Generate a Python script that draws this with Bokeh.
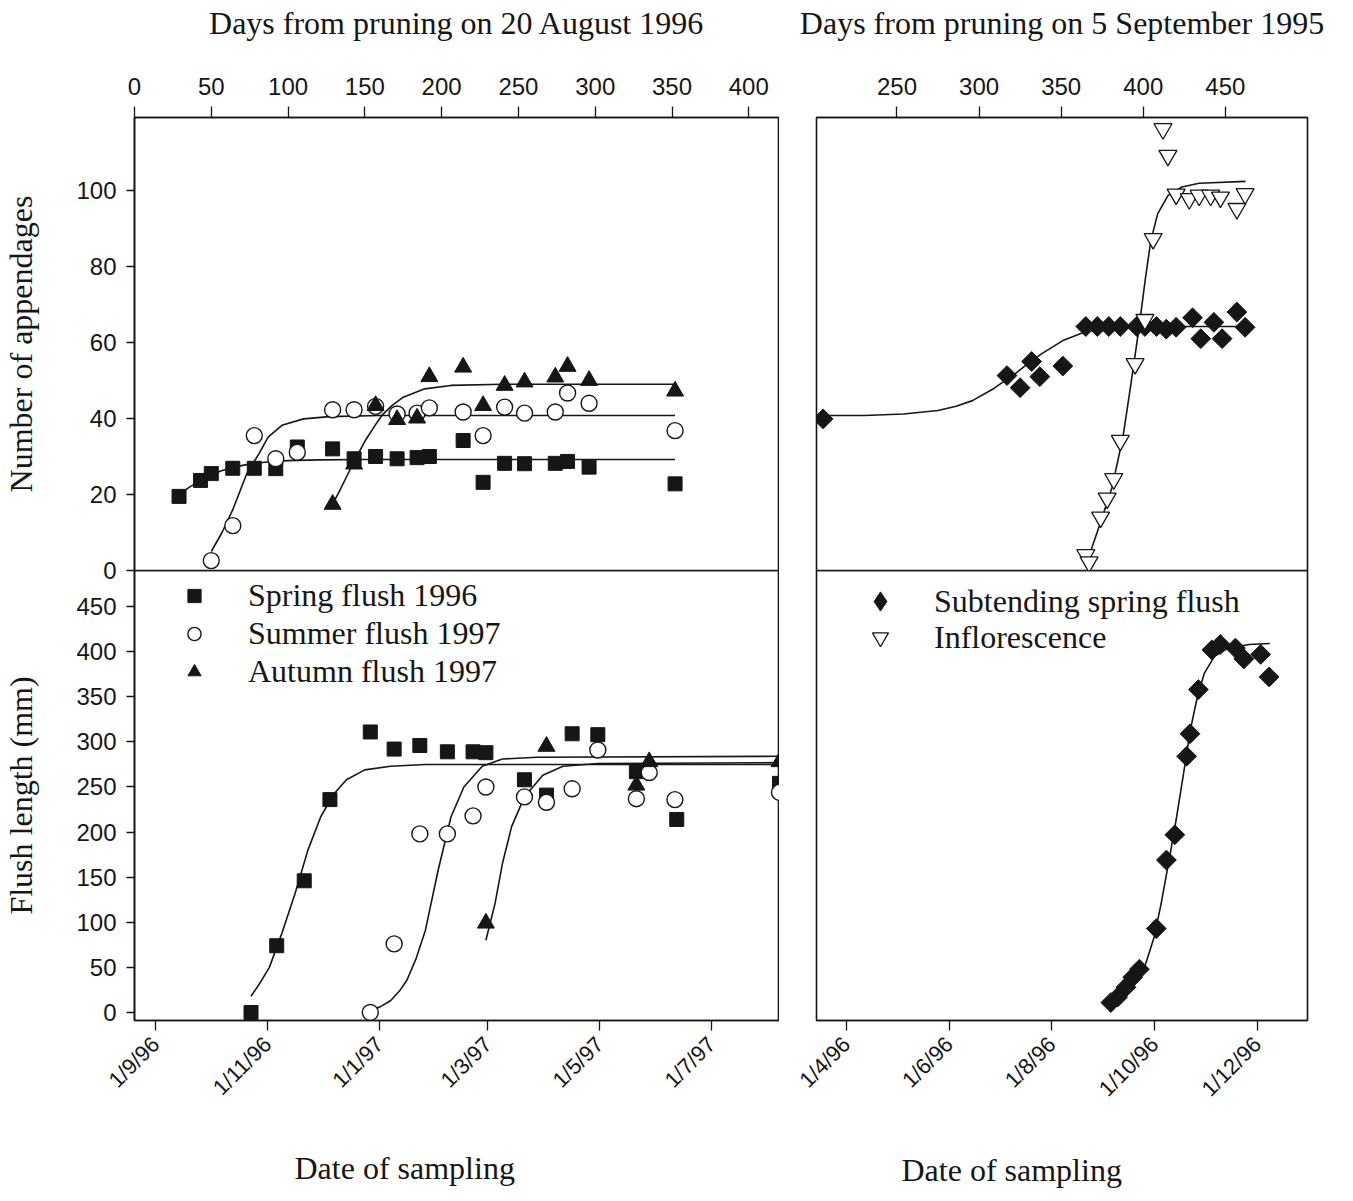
import math
import pandas as pd
from bokeh.plotting import figure
from bokeh.layouts import row, column
from bokeh.models import FixedTicker, Legend, LegendItem, Range1d, Title
from bokeh.embed import file_html
from bokeh.resources import INLINE

# ---------------- data: number of appendages (days from pruning 20 Aug 1996) ----------------
spring_app_days = [29, 43, 50, 64, 78, 92, 106, 129, 143, 157, 171, 184, 192, 214, 227, 241, 254, 274, 282, 296, 352]
spring_app_vals = [19.5, 23.7, 25.5, 26.9, 26.9, 26.8, 32.5, 32.0, 29.4, 30.0, 29.4, 29.7, 30.0, 34.2, 23.2, 28.2, 28.1, 28.2, 28.7, 27.2, 22.8]
summer_app_days = [50, 64, 78, 92, 106, 129, 143, 157, 171, 184, 192, 214, 227, 241, 254, 274, 282, 296, 352]
summer_app_vals = [2.6, 11.8, 35.5, 29.4, 31.1, 42.3, 42.3, 43.2, 41.2, 41.4, 42.8, 41.7, 35.5, 43.0, 41.4, 41.7, 46.7, 44.0, 36.8]
autumn_app_days = [129, 143, 157, 171, 184, 192, 214, 227, 241, 254, 274, 282, 296, 352]
autumn_app_vals = [17.4, 28.0, 43.4, 39.7, 40.1, 51.0, 53.5, 43.4, 48.7, 49.6, 50.9, 53.7, 50.0, 47.2]

# fitted curves
spring_app_fit_x = [29, 36, 44, 50, 57, 64, 72, 80, 90, 100, 120, 150, 352]
spring_app_fit_y = [20.0, 22.0, 23.8, 25.2, 26.3, 27.1, 27.8, 28.3, 28.7, 28.9, 29.1, 29.2, 29.2]
summer_app_fit_x = [50, 57, 64, 73, 81, 87, 96, 110, 127, 160, 352]
summer_app_fit_y = [5.0, 10.0, 16.0, 25.4, 30.7, 35.1, 38.2, 39.9, 40.5, 40.8, 40.8]
autumn_app_fit_x = [129, 133, 138, 144, 150, 156, 161, 168, 175, 189, 206, 240, 352]
autumn_app_fit_y = [17.5, 20.5, 24.6, 29.5, 34.0, 37.8, 40.8, 43.5, 45.6, 47.8, 48.7, 49.0, 49.0]

# ---------------- data: number of appendages (days from pruning 5 Sep 1995) ----------------
subt_app_days = [205, 317, 325, 332, 337, 351, 365, 372, 379, 386, 396, 401, 408, 414, 420, 430, 435, 443, 448, 457, 462]
subt_app_vals = [39.9, 51.3, 48.1, 55.0, 51.0, 53.8, 64.2, 64.2, 64.2, 64.2, 64.2, 64.2, 64.2, 63.5, 64.0, 66.5, 61.0, 65.3, 61.0, 68.0, 64.0]
infl_app_days = [365, 367, 374, 378, 382, 386, 395, 401, 406, 412, 415, 420, 428, 434, 441, 447, 457, 462]
infl_app_vals = [4.1, 2.2, 14.0, 19.0, 24.1, 34.2, 54.4, 66.0, 87.3, 116.2, 109.2, 99.0, 97.8, 98.7, 98.7, 98.2, 95.2, 99.1]
subt_app_fit_x = [205, 230, 254, 275, 286, 296, 309, 322, 330, 338, 351, 364, 376, 390, 462]
subt_app_fit_y = [40.8, 40.8, 41.2, 42.1, 43.2, 44.7, 47.9, 51.8, 54.5, 57.0, 60.5, 62.7, 63.8, 64.2, 64.2]
infl_app_fit_x = [366.7, 374, 381, 387.6, 391.9, 397.2, 401.4, 404.6, 408.8, 415.1, 423.5, 434, 462.3]
infl_app_fit_y = [3.5, 12.7, 21.9, 35.1, 47.4, 63.2, 77.2, 86.8, 93.9, 98.7, 100.9, 101.9, 102.4]

# ---------------- data: flush length (mm), 1996/97 ----------------
spring_len_dates = ["1996-10-23", "1996-11-06", "1996-11-21", "1996-12-05", "1996-12-27", "1997-01-09",
                    "1997-01-23", "1997-02-07", "1997-02-21", "1997-02-28", "1997-03-21", "1997-04-02",
                    "1997-04-16", "1997-04-30", "1997-05-21", "1997-06-12", "1997-08-07"]
spring_len_vals = [0, 74, 146, 236, 311, 292, 296, 289, 289, 288, 258, 241, 309, 308, 267, 214, 254]
summer_len_dates = ["1996-12-27", "1997-01-09", "1997-01-23", "1997-02-07", "1997-02-21", "1997-02-28",
                    "1997-03-21", "1997-04-02", "1997-04-16", "1997-04-30", "1997-05-21", "1997-05-28",
                    "1997-06-11", "1997-08-07"]
summer_len_vals = [0, 76, 198, 198, 218, 250, 239, 233, 248, 291, 237, 266, 236, 244]
autumn_len_dates = ["1997-02-28", "1997-04-02", "1997-05-21", "1997-05-28", "1997-08-07"]
autumn_len_vals = [99, 295, 252, 278, 278]
# fitted curves, x in days after 20 Aug 1996
spring_len_fit_x = [64, 69, 74, 81, 88, 95, 102, 109, 116, 126, 140, 159, 352]
spring_len_fit_y = [18, 33, 50, 89, 132, 180, 217, 242, 258, 269, 273, 275, 275]
summer_len_fit_x = [129, 135, 140, 145, 149, 154, 159, 166, 173, 180, 190, 201, 220, 352]
summer_len_fit_y = [2, 7, 13, 24, 36, 60, 91, 158, 217, 250, 273, 281, 283, 284]
autumn_len_fit_x = [192, 197, 201, 206, 213, 223, 234, 253, 352]
autumn_len_fit_y = [80, 121, 165, 206, 239, 263, 273, 276, 277]

# ---------------- data: flush length (mm), 1996 subtending flush ----------------
subt_len_dates = ["1996-09-05", "1996-09-09", "1996-09-14", "1996-09-18", "1996-09-22", "1996-10-02",
                  "1996-10-08", "1996-10-13", "1996-10-20", "1996-10-22", "1996-10-27", "1996-11-04",
                  "1996-11-09", "1996-11-18", "1996-11-23", "1996-12-03", "1996-12-08"]
subt_len_vals = [11, 17, 28, 39, 48, 93, 169, 197, 284, 309, 358, 402, 408, 404, 392, 397, 372]
# fitted curve, x in days after 1 Jan 1996
subt_len_fit_x = [249, 255, 260.5, 265, 268.7, 273.8, 277.9, 283, 287.1, 291.2, 295.2, 299.4, 303.5, 309.6, 317.8, 330.1, 342.4]
subt_len_fit_y = [11.4, 19, 28, 40, 54, 84, 121, 173, 217, 265, 313, 350, 376, 395, 404, 408, 409]

# ---------------- tick labels ----------------
left_days_ticks = [0, 50, 100, 150, 200, 250, 300, 350, 400]
right_days_ticks = [250, 300, 350, 400, 450]
app_ticks = [0, 20, 40, 60, 80, 100]
len_ticks = [0, 50, 100, 150, 200, 250, 300, 350, 400, 450]
left_date_ticks = ["1996-09-01", "1996-11-01", "1997-01-01", "1997-03-01", "1997-05-01", "1997-07-01"]
left_date_labels = ["1/9/96", "1/11/96", "1/1/97", "1/3/97", "1/5/97", "1/7/97"]
right_date_ticks = ["1996-04-01", "1996-06-01", "1996-08-01", "1996-10-01", "1996-12-01"]
right_date_labels = ["1/4/96", "1/6/96", "1/8/96", "1/10/96", "1/12/96"]

REF_L = pd.Timestamp("1996-08-20")
REF_R = pd.Timestamp("1996-01-01")


def to_days(dates, ref):
    return [int((pd.Timestamp(d) - ref).days) for d in dates]


SERIF = "Liberation Serif"
SANS = "Liberation Sans"
INK = "#161616"
LBL = "32px"
NAN = float("nan")


def style(p):
    p.grid.visible = False
    p.outline_line_color = INK
    p.outline_line_width = 1.6
    p.background_fill_color = "white"
    p.border_fill_color = "white"
    for ax in p.axis:
        ax.axis_line_color = INK
        ax.axis_line_width = 1.6
        ax.major_tick_line_color = INK
        ax.major_tick_line_width = 1.3
        ax.major_tick_out = 9
        ax.major_tick_in = 0
        ax.minor_tick_line_color = None
        ax.major_label_text_font = SANS
        ax.major_label_text_font_size = "24px"
        ax.major_label_text_color = INK
        ax.axis_label_text_font = SERIF
        ax.axis_label_text_font_size = LBL
        ax.axis_label_text_font_style = "normal"
        ax.axis_label_text_color = INK


def fig(**kw):
    return figure(toolbar_location=None, output_backend="svg", **kw)


def top_axis_title(p, text):
    ax = p.xaxis[0]
    ax.axis_label = text
    ax.major_tick_out = 11
    ax.major_label_standoff = 12
    ax.axis_label_standoff = 34


def add_title(p, text, side, offset, standoff):
    p.add_layout(Title(text=text, align="left", offset=offset, standoff=standoff,
                       text_font=SERIF, text_font_size=LBL, text_font_style="normal",
                       text_color=INK), side)


APP_RANGE = (0, 119.2)
LEN_RANGE = (-8.9, 490)
OVER = 14  # bottom strip of the upper figures, overlapped by the lower figures

# ---------------- top-left ----------------
tl = fig(frame_width=645, frame_height=453, x_range=Range1d(0, 420), y_range=Range1d(*APP_RANGE),
         x_axis_location="above", min_border_left=133, min_border_top=117,
         min_border_bottom=OVER, min_border_right=0)
style(tl)
tl.xaxis.ticker = FixedTicker(ticks=left_days_ticks)
tl.yaxis.ticker = FixedTicker(ticks=app_ticks)
tl.yaxis.axis_label = "Number of appendages"
top_axis_title(tl, "Days from pruning on 20 August 1996")
tl.yaxis.major_tick_out = 8
tl.yaxis.major_label_standoff = 10
tl.yaxis.axis_label_standoff = 34
tl.line(spring_app_fit_x, spring_app_fit_y, line_color=INK, line_width=1.6)
tl.line(summer_app_fit_x, summer_app_fit_y, line_color=INK, line_width=1.6)
tl.line(autumn_app_fit_x, autumn_app_fit_y, line_color=INK, line_width=1.6)
tl.scatter(spring_app_days, spring_app_vals, marker="square", size=14, fill_color=INK, line_color=INK)
tl.scatter(summer_app_days, summer_app_vals, marker="circle", size=16, fill_color="white",
           line_color=INK, line_width=1.4)
tl.scatter(autumn_app_days, autumn_app_vals, marker="triangle", size=17, fill_color=INK, line_color=INK)

# ---------------- bottom-left ----------------
bl = fig(frame_width=645, frame_height=450, x_range=Range1d(0.5, 352), y_range=Range1d(*LEN_RANGE),
         min_border_left=133, min_border_top=0, min_border_bottom=180, min_border_right=0,
         margin=(-OVER, 0, 0, 0))
style(bl)
bl.background_fill_alpha = 0
bl.border_fill_alpha = 0
lt = to_days(left_date_ticks, REF_L)
bl.xaxis.ticker = FixedTicker(ticks=lt)
bl.xaxis.major_label_overrides = {t: lab for t, lab in zip(lt, left_date_labels)}
bl.xaxis.major_label_orientation = math.pi / 4
bl.xaxis.major_label_text_font_size = "22px"
bl.xaxis.major_tick_out = 10
bl.xaxis.major_label_standoff = 10
add_title(bl, "Date of sampling", "below", 160, 72)
bl.yaxis.ticker = FixedTicker(ticks=len_ticks)
bl.yaxis.axis_label = "Flush length (mm)"
bl.yaxis.major_tick_out = 8
bl.yaxis.major_label_standoff = 10
bl.yaxis.axis_label_standoff = 34
bl.line(spring_len_fit_x, spring_len_fit_y, line_color=INK, line_width=1.6)
bl.line(summer_len_fit_x, summer_len_fit_y, line_color=INK, line_width=1.6)
bl.line(autumn_len_fit_x, autumn_len_fit_y, line_color=INK, line_width=1.6)
r_sq = bl.scatter(to_days(spring_len_dates, REF_L), spring_len_vals, marker="square", size=14,
                  fill_color=INK, line_color=INK)
r_ci = bl.scatter(to_days(summer_len_dates, REF_L), summer_len_vals, marker="circle", size=16,
                  fill_color="white", line_color=INK, line_width=1.4)
r_tr = bl.scatter(to_days(autumn_len_dates, REF_L), autumn_len_vals, marker="triangle", size=17,
                  fill_color=INK, line_color=INK)
leg_l = Legend(items=[LegendItem(label="Spring flush 1996", renderers=[r_sq]),
                      LegendItem(label="Summer flush 1997", renderers=[r_ci]),
                      LegendItem(label="Autumn flush 1997", renderers=[r_tr])],
               location=(40, 330), padding=0, spacing=1, margin=0,
               glyph_width=40, glyph_height=33, label_height=33, label_standoff=34,
               label_text_font=SERIF, label_text_font_size=LBL, label_text_color=INK,
               background_fill_alpha=0, border_line_color=None)
bl.add_layout(leg_l)

# ---------------- top-right ----------------
tr = fig(frame_width=491, frame_height=453, x_range=Range1d(201, 500), y_range=Range1d(*APP_RANGE),
         x_axis_location="above", y_axis_location=None, min_border_left=37, min_border_top=117,
         min_border_bottom=OVER, min_border_right=40)
style(tr)
tr.xaxis.ticker = FixedTicker(ticks=right_days_ticks)
top_axis_title(tr, "Days from pruning on 5 September 1995")
tr.line(subt_app_fit_x, subt_app_fit_y, line_color=INK, line_width=1.6)
tr.line(infl_app_fit_x, infl_app_fit_y, line_color=INK, line_width=1.6)
tr.scatter(subt_app_days, subt_app_vals, marker="square", angle=math.pi / 4, size=14,
           fill_color=INK, line_color=INK)
tr.scatter(infl_app_days, infl_app_vals, marker="inverted_triangle", size=18, fill_color="white",
           line_color=INK, line_width=1.3)

# ---------------- bottom-right ----------------
br = fig(frame_width=491, frame_height=450, x_range=Range1d(73.2, 364.8), y_range=Range1d(*LEN_RANGE),
         y_axis_location=None, min_border_left=37, min_border_top=0, min_border_bottom=180,
         min_border_right=40, margin=(-OVER, 0, 0, 0))
style(br)
br.background_fill_alpha = 0
br.border_fill_alpha = 0
rt = to_days(right_date_ticks, REF_R)
br.xaxis.ticker = FixedTicker(ticks=rt)
br.xaxis.major_label_overrides = {t: lab for t, lab in zip(rt, right_date_labels)}
br.xaxis.major_label_orientation = math.pi / 4
br.xaxis.major_label_text_font_size = "22px"
br.xaxis.major_tick_out = 10
br.xaxis.major_label_standoff = 10
add_title(br, "Date of sampling", "below", 85, 72)
br.line(subt_len_fit_x, subt_len_fit_y, line_color=INK, line_width=1.6)
br.scatter(to_days(subt_len_dates, REF_R), subt_len_vals, marker="square", angle=math.pi / 4,
           size=14, fill_color=INK, line_color=INK)
# legend-only renderers (no visible data)
r_di = br.scatter(x=[NAN], y=[NAN], marker="diamond", size=19, fill_color=INK, line_color=INK)
r_inv = br.scatter(x=[NAN], y=[NAN], marker="inverted_triangle", size=16, fill_color="white",
                   line_color=INK, line_width=1.3)
leg_r1 = Legend(items=[LegendItem(label="Subtending spring flush", renderers=[r_di])],
                location=(40, 395), padding=0, spacing=0, margin=0,
                glyph_width=48, glyph_height=48, label_height=48, label_standoff=30,
                label_text_font=SERIF, label_text_font_size=LBL, label_text_color=INK,
                background_fill_alpha=0, border_line_color=None)
leg_r2 = Legend(items=[LegendItem(label="Inflorescence", renderers=[r_inv])],
                location=(44, 363), padding=0, spacing=0, margin=0,
                glyph_width=40, glyph_height=40, label_height=40, label_standoff=34,
                label_text_font=SERIF, label_text_font_size=LBL, label_text_color=INK,
                background_fill_alpha=0, border_line_color=None)
br.add_layout(leg_r1)
br.add_layout(leg_r2)

layout = row(column(tl, bl, spacing=0), column(tr, br, spacing=0), spacing=0)
open("out.html", "w").write(file_html(layout, INLINE))
